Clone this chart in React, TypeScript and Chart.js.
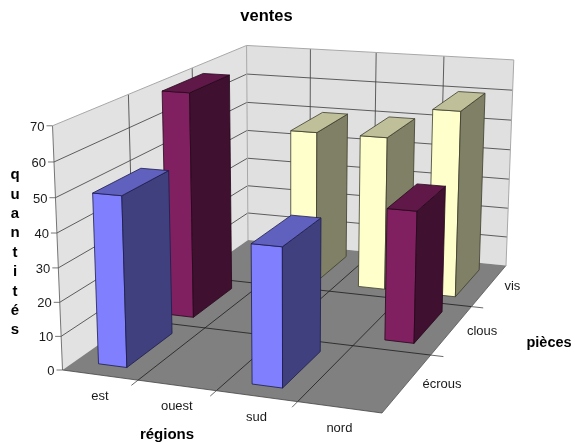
import React, { useEffect, useRef } from "react";
import { Chart, registerables, BarController } from "chart.js";

const regions = ["est", "ouest", "sud", "nord"];
const pieces = ["écrous", "clous", "vis"];
const ecrous = [50, null, 40, null];
const clous = [70, null, null, 40];
const vis = [null, 50, 50, 60];
const quantityTicks = { min: 0, max: 70, step: 10 };
const verticalTitle = ["q", "u", "a", "n", "t", "i", "t", "é", "s"];

const FONT = "'Liberation Sans', Arial, sans-serif";

// Camera: floor corners on the canvas plus the homogeneous column of the height axis.
const FLOOR_FRONT_LEFT = [62.5, 370];
const FLOOR_FRONT_RIGHT = [382, 413];
const FLOOR_BACK_RIGHT = [506, 265.5];
const FLOOR_BACK_LEFT = [248, 240];
const HEIGHT_COLUMN = [-12.2, -249.5, -0.042];

function buildProjection() {
  const [x0, y0] = FLOOR_FRONT_LEFT;
  const [x1, y1] = FLOOR_FRONT_RIGHT;
  const [x2, y2] = FLOOR_BACK_RIGHT;
  const [x3, y3] = FLOOR_BACK_LEFT;
  const dx1 = x1 - x2, dx2 = x3 - x2, sx = x0 - x1 + x2 - x3;
  const dy1 = y1 - y2, dy2 = y3 - y2, sy = y0 - y1 + y2 - y3;
  const den = dx1 * dy2 - dx2 * dy1;
  const g = (sx * dy2 - dx2 * sy) / den;
  const h = (dx1 * sy - sx * dy1) / den;
  const a = x1 - x0 + g * x1, b = x3 - x0 + h * x3;
  const d = y1 - y0 + g * y1, e = y3 - y0 + h * y3;
  const [c, f, i] = HEIGHT_COLUMN;
  return (u: number, v: number, w: number): [number, number] => {
    const q = g * u + h * v + i * w + 1;
    return [(a * u + b * v + c * w + x0) / q, (d * u + e * v + f * w + y0) / q];
  };
}
const project = buildProjection();

function poly(ctx: CanvasRenderingContext2D, pts: [number, number][], fill: string | null, stroke: string | null, lw = 0.8) {
  ctx.beginPath();
  pts.forEach((p, n) => (n ? ctx.lineTo(p[0], p[1]) : ctx.moveTo(p[0], p[1])));
  ctx.closePath();
  if (fill) { ctx.fillStyle = fill; ctx.fill(); }
  if (stroke) { ctx.strokeStyle = stroke; ctx.lineWidth = lw; ctx.stroke(); }
}

function line(ctx: CanvasRenderingContext2D, p: [number, number], q: [number, number], color: string, lw = 0.8) {
  ctx.beginPath();
  ctx.moveTo(p[0], p[1]);
  ctx.lineTo(q[0], q[1]);
  ctx.strokeStyle = color;
  ctx.lineWidth = lw;
  ctx.stroke();
}

const decimal = (scale: any, value: number) => scale.getDecimalForPixel(scale.getPixelForValue(value));

const BAR_WIDTH_SHARE = 0.38;
const BAR_DEPTH_SHARE = 0.66;

// Bar controller that paints each column as a projected box on the three scales.
class Bar3DController extends BarController {
  static id = "bar3d";
  static defaults = BarController.defaults;
  static overrides = BarController.overrides;

  draw() {
    const ctx = this.chart.ctx;
    const meta = this.getMeta();
    const ds: any = this.getDataset();
    const { x: xScale, y: yScale, depth } = this.chart.scales as any;
    const row = pieces.indexOf(ds.label);
    const vMid = decimal(depth, row);
    const dv = (BAR_DEPTH_SHARE / pieces.length) / 2;
    const du = (BAR_WIDTH_SHARE / regions.length) / 2;
    meta.data.forEach((_: any, idx: number) => {
      const value = this.getParsed(idx).y;
      if (value === null || value === undefined || Number.isNaN(value)) return;
      const uMid = decimal(xScale, idx);
      const w = decimal(yScale, value);
      const u0 = uMid - du, u1 = uMid + du, v0 = vMid - dv, v1 = vMid + dv;
      const edge = ds.borderColor;
      poly(ctx, [project(u0, v0, 0), project(u1, v0, 0), project(u1, v0, w), project(u0, v0, w)], ds.backgroundColor, edge);
      poly(ctx, [project(u1, v0, 0), project(u1, v1, 0), project(u1, v1, w), project(u1, v0, w)], ds.sideColor, edge);
      poly(ctx, [project(u0, v0, w), project(u1, v0, w), project(u1, v1, w), project(u0, v1, w)], ds.topColor, edge);
    });
  }
}

Chart.register(...registerables, Bar3DController);

// Walls, floor, grid and every axis text of the box.
const stagePlugin = {
  id: "stage",
  beforeDatasetsDraw(chart: any) {
    const { ctx, scales } = chart;
    const { x: xScale, y: yScale, depth } = scales;
    ctx.save();
    const wallEdge = "#a8a8a8";
    const grid = "#3a3a3a";
    poly(ctx, [project(0, 0, 0), project(0, 1, 0), project(0, 1, 1), project(0, 0, 1)], "#e2e2e2", null);
    poly(ctx, [project(0, 1, 0), project(1, 1, 0), project(1, 1, 1), project(0, 1, 1)], "#e0e0e0", null);
    poly(ctx, [project(0, 0, 0), project(1, 0, 0), project(1, 1, 0), project(0, 1, 0)], "#808080", null);

    const uLines = regions.slice(0, -1).map((_, n) => decimal(xScale, n + 0.5));
    const vLines = pieces.slice(0, -1).map((_, n) => decimal(depth, n + 0.5));

    yScale.ticks.forEach((t: any) => {
      const w = decimal(yScale, t.value);
      if (t.value !== quantityTicks.min && t.value !== quantityTicks.max) {
        line(ctx, project(0, 0, w), project(0, 1, w), grid);
        line(ctx, project(0, 1, w), project(1, 1, w), grid);
      }
      const at = project(0, 0, w);
      line(ctx, at, [at[0] - 6, at[1]], "#555555");
      ctx.fillStyle = "#1a1a1a";
      ctx.font = `13px ${FONT}`;
      ctx.textAlign = "right";
      ctx.textBaseline = "middle";
      ctx.fillText(String(t.value), at[0] - 8, at[1] + 1.5);
    });
    uLines.forEach((u) => {
      line(ctx, project(u, 1, 0), project(u, 1, 1), grid);
      line(ctx, project(u, 0, 0), project(u, 1, 0), "#1c1c1c");
      line(ctx, project(u, 0, 0), project(u, -0.03, 0), "#444444");
    });
    vLines.forEach((v) => {
      line(ctx, project(0, v, 0), project(0, v, 1), grid);
      line(ctx, project(0, v, 0), project(1, v, 0), "#1c1c1c");
      line(ctx, project(1, v, 0), project(1.04, v, 0), "#444444");
    });
    line(ctx, project(0, 0, 0), project(0, 0, 1), "#555555");
    line(ctx, project(0, 0, 1), project(0, 1, 1), wallEdge, 1);
    line(ctx, project(0, 1, 1), project(1, 1, 1), wallEdge, 1);
    line(ctx, project(1, 1, 1), project(1, 1, 0), wallEdge, 1);
    line(ctx, project(0, 1, 0), project(0, 1, 1), wallEdge, 1);
    line(ctx, project(0, 0, 0), project(1, 0, 0), "#444444");
    line(ctx, project(1, 0, 0), project(1, 1, 0), "#555555");

    ctx.fillStyle = "#1a1a1a";
    ctx.font = `13px ${FONT}`;
    ctx.textBaseline = "middle";
    ctx.textAlign = "center";
    regions.forEach((name, n) => {
      const p = project(decimal(xScale, n), 0, 0);
      ctx.fillText(name, p[0], p[1] + 21);
    });
    ctx.textAlign = "left";
    pieces.forEach((name, n) => {
      const p = project(1, decimal(depth, n), 0);
      ctx.fillText(name, p[0] + 15, p[1] + 1.5);
    });

    ctx.fillStyle = "#000000";
    ctx.font = `bold 15px ${FONT}`;
    ctx.textAlign = "center";
    ctx.fillText("régions", 167, 435);
    ctx.font = `bold 14.5px ${FONT}`;
    ctx.fillText("pièces", 549, 343);
    ctx.font = `bold 15px ${FONT}`;
    verticalTitle.forEach((ch, n) => ctx.fillText(ch, 15, 175 + n * 19.4));
    ctx.restore();
  },
};

export default function App() {
  const ref = useRef<HTMLCanvasElement | null>(null);
  useEffect(() => {
    const chart = new Chart(ref.current as HTMLCanvasElement, {
      type: "bar3d" as any,
      data: {
        labels: regions,
        datasets: [
          { label: "écrous", data: ecrous, backgroundColor: "#8080ff", sideColor: "#40407f", topColor: "#6060bf", borderColor: "#1c1c4a" },
          { label: "clous", data: clous, backgroundColor: "#802060", sideColor: "#401030", topColor: "#601848", borderColor: "#24081a" },
          { label: "vis", data: vis, backgroundColor: "#ffffcc", sideColor: "#808066", topColor: "#bfbf99", borderColor: "#3c3c2c" },
        ] as any,
      },
      plugins: [stagePlugin],
      options: {
        animation: false,
        responsive: false,
        events: [],
        layout: { padding: { right: 42 } },
        plugins: {
          legend: { display: false },
          tooltip: { enabled: false },
          title: {
            display: true,
            text: "ventes",
            color: "#000000",
            fullSize: false,
            font: { family: FONT, size: 16.5, weight: "bold" },
            padding: { top: 7, bottom: 0 },
          },
        },
        scales: {
          x: { type: "category", display: false, offset: true },
          y: {
            type: "linear",
            display: false,
            min: quantityTicks.min,
            max: quantityTicks.max,
            ticks: { stepSize: quantityTicks.step },
          },
          depth: { type: "category", axis: "x", display: false, labels: pieces, offset: true },
        },
      } as any,
    });
    return () => chart.destroy();
  }, []);
  return (
    <div style={{ position: "absolute", left: 0, top: 0, width: 575, height: 443, background: "#ffffff" }}>
      <canvas ref={ref} width={575} height={443} style={{ display: "block" }} />
    </div>
  );
}
